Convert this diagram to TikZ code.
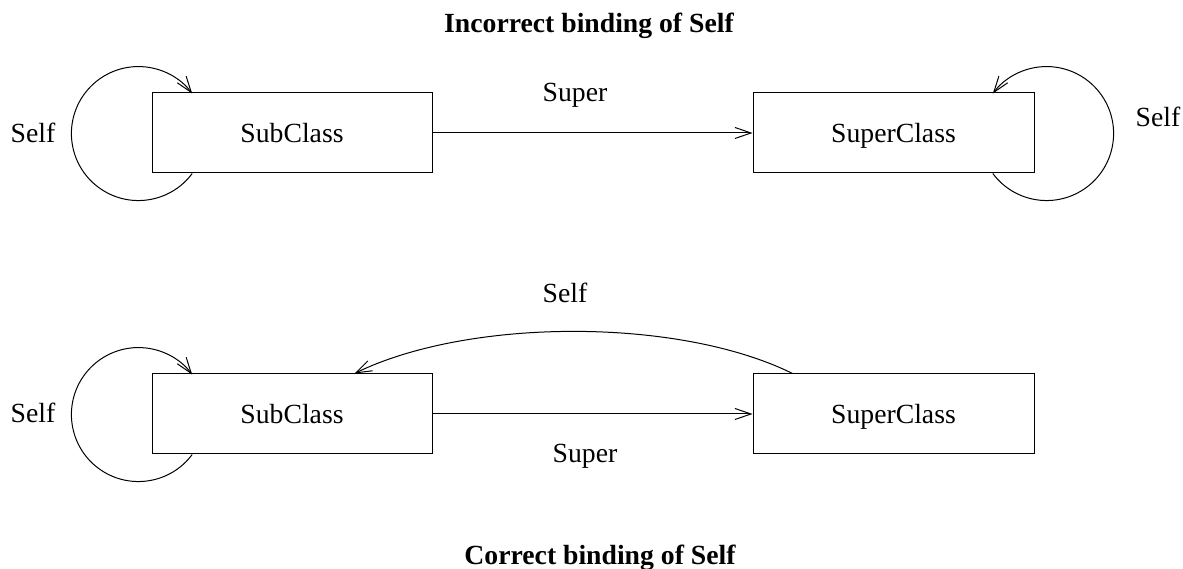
\documentclass[tikz,border=0pt]{standalone}
\usepackage{fontspec}
\setmainfont{Liberation Serif}
\usetikzlibrary{arrows.meta}
\begin{document}
\begin{tikzpicture}[x=1pt,y=1pt,
    line width=1pt,
    every node/.style={font=\fontsize{27.7}{33}\selectfont, inner sep=0pt},
    classbox/.style={draw, minimum width=280pt, minimum height=80pt,
        text height=20pt, text depth=0pt},
    label/.style={anchor=base},
    title/.style={anchor=base, font=\fontsize{27.7}{33}\selectfont\bfseries},
    link/.style={-{Straight Barb[length=16pt,width=11pt]}}]
  \useasboundingbox (0,0) rectangle (1183,569);

  % upper diagram: incorrect binding
  \node[title] (t1) at (589,536) {Incorrect binding of Self};
  \node[classbox] (sub1) at (292,436) {SubClass};
  \node[classbox, minimum width=281pt] (sup1) at (893.5,436) {SuperClass};
  \node[label] (super1) at (575,467) {Super};
  \node[label] (selfa) at (33,426) {Self};
  \node[label] (selfb) at (1158,442) {Self};

  \draw[link] (sub1.east) -- (sup1.west);
  \coordinate (l1) at ([xshift=40.7pt]sub1.south west);
  \draw[link] (l1) arc[start angle=323.4, end angle=36.6, radius=67];
  \coordinate (r1) at ([xshift=240.3pt]sup1.south west);
  \draw[link] (r1) arc[start angle=216.6, end angle=503.4, radius=67];

  % lower diagram: correct binding
  \node[classbox] (sub2) at (292,155) {SubClass};
  \node[classbox, minimum width=281pt] (sup2) at (893.5,155) {SuperClass};
  \node[label] (self2) at (565,266) {Self};
  \node[label] (super2) at (585,106) {Super};
  \node[label] (selfc) at (33,146) {Self};
  \node[title] (t2) at (600,4) {Correct binding of Self};

  \draw[link] (sub2.east) -- (sup2.west);
  \coordinate (l2) at ([xshift=40.7pt]sub2.south west);
  \draw[link] (l2) arc[start angle=323.4, end angle=36.6, radius=67];
  \coordinate (c1) at ([xshift=40pt]sup2.north west);
  \coordinate (c2) at ([xshift=203pt]sub2.north west);
  \draw[link] (c1) .. controls +(-113,56) and +(115,56) .. (c2);
\end{tikzpicture}
\end{document}
